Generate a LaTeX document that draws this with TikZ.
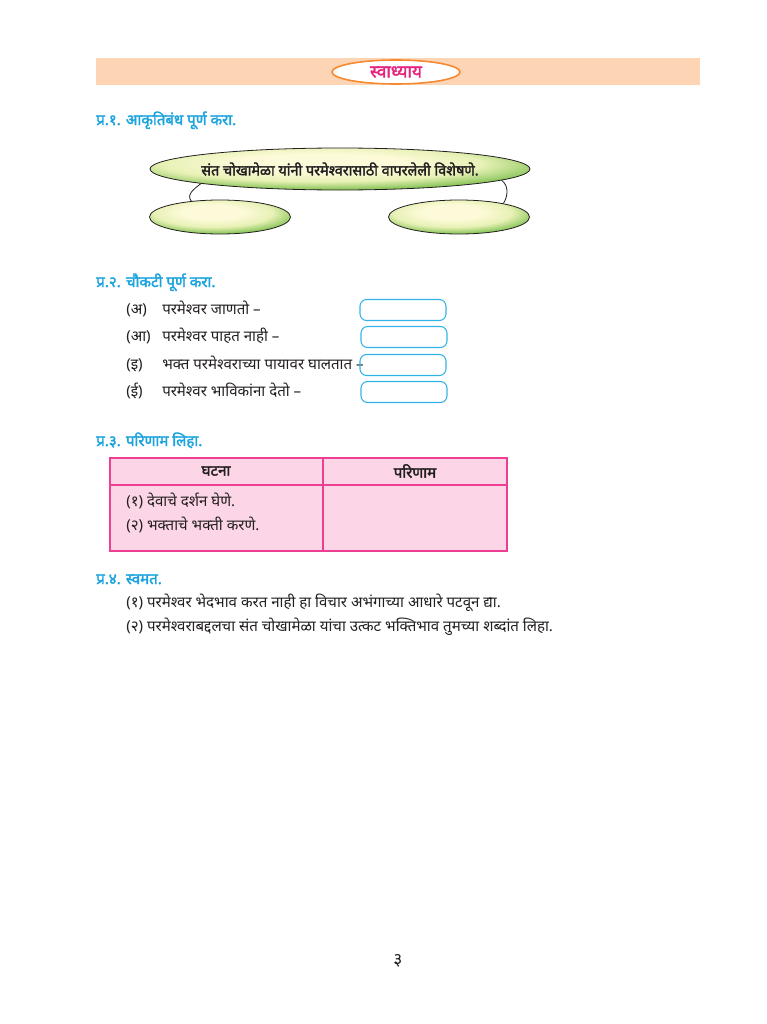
\documentclass[tikz,border=0pt]{standalone}
\usepackage{fontspec}
\setmainfont{Noto Sans}[Script=Devanagari]
\newfontfamily\headfont{Noto Sans}[Script=Devanagari, FakeBold=2.2]
\usetikzlibrary{shapes.geometric}

\definecolor{bandpeach}{HTML}{FDD5B4}
\definecolor{ovalorange}{HTML}{F58A32}
\definecolor{titlepink}{HTML}{E5237E}
\definecolor{qblue}{HTML}{1BA3DD}
\definecolor{boxcyan}{HTML}{33B2E8}
\definecolor{tablepink}{HTML}{FCD6E6}
\definecolor{tableline}{HTML}{EC3F93}
\definecolor{inktext}{HTML}{231F20}
\definecolor{leafin}{HTML}{FCFAD8}
\definecolor{leafmid}{HTML}{E8F1B6}
\definecolor{leafout}{HTML}{7CBF4D}

\pgfdeclareradialshading{leafshade}{\pgfpoint{-3bp}{8bp}}{%
  color(0bp)=(leafin); color(11bp)=(leafin); color(21bp)=(leafmid);
  color(31bp)=(leafout); color(100bp)=(leafout)}

\begin{document}
\begin{tikzpicture}[x=0.75pt, y=-0.75pt, every node/.style={text=inktext, font=\fontsize{11.3}{13}\selectfont}]
    \tikzstyle{qhead}=[anchor=base west, inner sep=0pt, text=qblue, font=\fontsize{11.3}{13}\headfont]
    \tikzstyle{line}=[anchor=base west, inner sep=0pt]
    \tikzstyle{leaf}=[ellipse, draw=inktext, line width=0.6pt, shading=leafshade, inner sep=0pt]
    \tikzstyle{fillbox}=[draw=boxcyan, line width=0.8pt, rounded corners=5pt, minimum width=64.5pt, minimum height=15.75pt]

    \useasboundingbox (0,0) rectangle (767,1024);

    % header band
    \fill[bandpeach] (96,58) rectangle (700,85);
    \node[ellipse, draw=ovalorange, fill=white, line width=1.2pt, minimum width=96pt, minimum height=18pt,
          inner sep=0pt] (title) at (396,72) {};
    \node[text=titlepink, font=\fontsize{13}{15}\headfont] (titletext) at (title.center) {स्वाध्याय};

    % q1
    \node[qhead] (q1) at (96,125) {प्र.१. आकृतिबंध पूर्ण करा.};
    \node[leaf, minimum width=285pt, minimum height=31.5pt] (big) at (340,169) {};
    \node[font=\fontsize{10.8}{13}\headfont] (bigtext) at (big.center) {संत चोखामेळा यांनी परमेश्वरासाठी वापरलेली विशेषणे.};
    \node[leaf, minimum width=105.75pt, minimum height=25.5pt] (leftleaf) at (220,217) {};
    \node[leaf, minimum width=105.75pt, minimum height=25.5pt] (rightleaf) at (459,217) {};
    \draw[inktext, line width=0.6pt] (big.186) .. controls +(-8,6) and +(-5,-6) .. (leftleaf.151);
    \draw[inktext, line width=0.6pt] (big.356) .. controls +(8,6) and +(4,-6) .. (rightleaf.17);

    % q2
    \node[qhead] (q2) at (96,287) {प्र.२. चौकटी पूर्ण करा.};
    \foreach \n/\tag/\txt/\bx/\by in {1/(अ)/परमेश्वर जाणतो –/403/310, 2/(आ)/परमेश्वर पाहत नाही –/404/337,
                                     3/(इ)/भक्त परमेश्वराच्या पायावर घालतात –/403/365, 4/(ई)/परमेश्वर भाविकांना देतो –/404/392} {
        \node[line] (tag\n) at (126,\by+4) {\tag};
        \node[line] (item\n) at (162,\by+4) {\txt};
        \node[fillbox] (box\n) at (\bx,\by) {};
    }

    % q3
    \node[qhead] (q3) at (96,446) {प्र.३. परिणाम लिहा.};
    \draw[tableline, fill=tablepink, line width=0.8pt] (110,458) rectangle (507,551);
    \draw[tableline, line width=0.8pt] (110,485) -- (507,485);
    \draw[tableline, line width=0.8pt] (323,458) -- (323,551);
    \node[font=\fontsize{11.3}{13}\headfont] (event) at (216,471) {घटना};
    \node[font=\fontsize{11.3}{13}\headfont] (result) at (415,471) {परिणाम};
    \node[line] (ev1) at (126,506) {(१) देवाचे दर्शन घेणे.};
    \node[line] (ev2) at (126,530) {(२) भक्ताचे भक्ती करणे.};

    % q4
    \node[qhead] (q4) at (96,584) {प्र.४. स्वमत.};
    \node[line] (op1) at (126,607) {(१) परमेश्वर भेदभाव करत नाही हा विचार अभंगाच्या आधारे पटवून द्या.};
    \node[line] (op2) at (126,631) {(२) परमेश्वराबद्दलचा संत चोखामेळा यांचा उत्कट भक्तिभाव तुमच्या शब्दांत लिहा.};

    \node[font=\fontsize{13}{15}\selectfont] (page) at (398,961) {३};
\end{tikzpicture}
\end{document}
